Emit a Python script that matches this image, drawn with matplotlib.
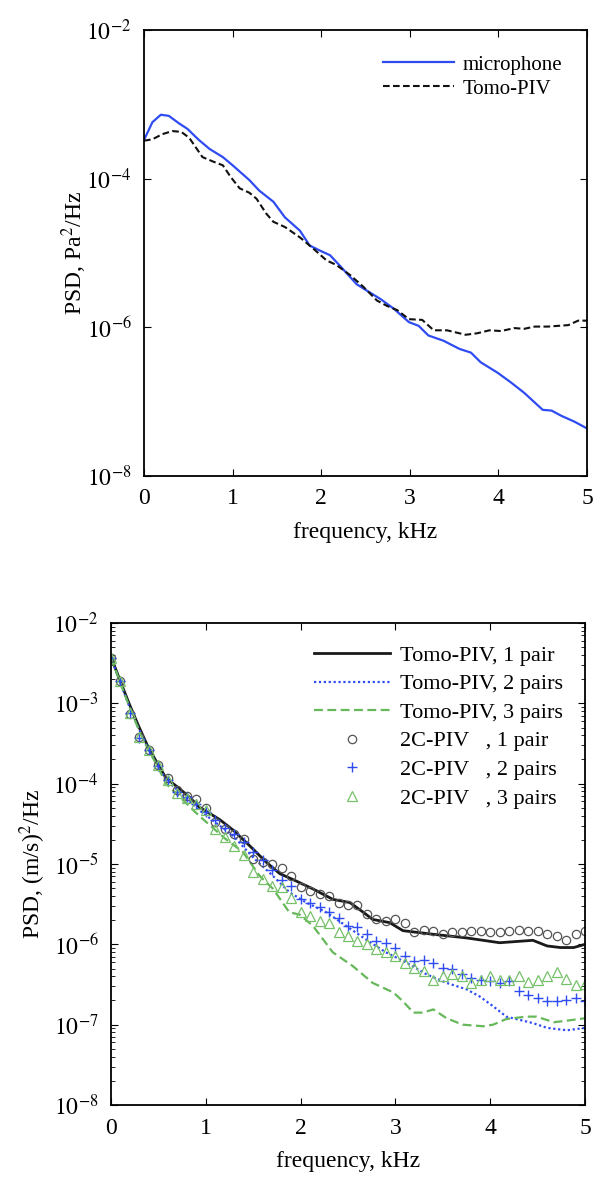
import numpy as np
import matplotlib
matplotlib.use("Agg")
import matplotlib.pyplot as plt
from matplotlib.ticker import FixedLocator, LogLocator, NullLocator, NullFormatter

plt.rcParams['font.family'] = ['Liberation Serif', 'DejaVu Serif']
plt.rcParams['mathtext.fontset'] = 'stix'

# ---- top panel: pressure PSD (values are log10 of PSD) ----
mic_f = [0.0, 0.095, 0.19, 0.28, 0.40, 0.49, 0.62, 0.74, 0.89, 1.0, 1.19, 1.30,
         1.46, 1.59, 1.76, 1.87, 1.99, 2.10, 2.21, 2.40, 2.52, 2.67, 2.82, 2.99,
         3.10, 3.21, 3.38, 3.56, 3.69, 3.80, 3.99, 4.14, 4.29, 4.50, 4.60, 4.71,
         4.86, 5.0]
mic_log = [-3.48, -3.24, -3.14, -3.155, -3.26, -3.33, -3.48, -3.60, -3.71, -3.82,
           -4.02, -4.16, -4.31, -4.52, -4.70, -4.90, -4.97, -5.03, -5.17, -5.42,
           -5.51, -5.62, -5.75, -5.93, -5.98, -6.11, -6.18, -6.29, -6.34, -6.47,
           -6.61, -6.74, -6.88, -7.11, -7.12, -7.19, -7.27, -7.36]
tomo_f = [0.0, 0.095, 0.21, 0.32, 0.42, 0.51, 0.66, 0.78, 0.89, 0.98, 1.08, 1.19,
          1.27, 1.38, 1.46, 1.59, 1.76, 1.91, 2.06, 2.17, 2.33, 2.48, 2.63, 2.74,
          2.86, 2.99, 3.14, 3.27, 3.42, 3.63, 3.76, 3.90, 4.03, 4.18, 4.29, 4.41,
          4.56, 4.79, 4.90, 5.0]
tomo_log = [-3.49, -3.47, -3.40, -3.36, -3.37, -3.45, -3.71, -3.77, -3.82, -3.98,
            -4.13, -4.19, -4.27, -4.47, -4.58, -4.65, -4.79, -4.94, -5.10, -5.16,
            -5.30, -5.46, -5.64, -5.71, -5.77, -5.89, -5.90, -6.04, -6.04, -6.10,
            -6.08, -6.04, -6.05, -6.01, -6.02, -5.99, -5.99, -5.97, -5.91, -5.91]

# ---- bottom panel: velocity PSD (log10) ----
t1_f = [0.0, 0.09, 0.19, 0.29, 0.39, 0.49, 0.58, 0.71, 0.83, 0.93, 1.15, 1.29,
        1.46, 1.64, 1.78, 1.95, 2.13, 2.34, 2.52, 2.66, 2.76, 2.94, 3.08, 3.40,
        3.75, 4.10, 4.45, 4.60, 4.74, 4.88, 5.0]
t1_log = [-2.42, -2.70, -3.00, -3.28, -3.54, -3.75, -3.93, -4.05, -4.17, -4.29,
          -4.45, -4.58, -4.77, -4.98, -5.12, -5.21, -5.31, -5.44, -5.48, -5.60,
          -5.69, -5.73, -5.83, -5.875, -5.92, -5.98, -5.95, -6.02, -6.04, -6.04, -6.0]
t2_f = [0.0, 0.09, 0.19, 0.29, 0.39, 0.49, 0.58, 0.93, 1.29, 1.50, 1.71, 1.88,
        2.06, 2.27, 2.48, 2.69, 2.90, 3.12, 3.33, 3.54, 3.75, 3.89, 4.03, 4.17,
        4.31, 4.45, 4.60, 4.81, 5.0]
t2_log = [-2.43, -2.72, -3.03, -3.31, -3.56, -3.77, -3.95, -4.33, -4.65, -4.92,
          -5.15, -5.35, -5.48, -5.60, -5.77, -5.94, -6.10, -6.23, -6.375, -6.48,
          -6.56, -6.65, -6.77, -6.90, -6.94, -6.98, -7.04, -7.07, -7.04]
t3_f = [0.0, 0.09, 0.19, 0.29, 0.39, 0.49, 0.58, 0.93, 1.21, 1.39, 1.57, 1.71,
        1.88, 1.99, 2.13, 2.34, 2.55, 2.76, 2.98, 3.08, 3.19, 3.29, 3.40, 3.54,
        3.71, 3.93, 4.03, 4.17, 4.38, 4.49, 4.67, 4.81, 5.0]
t3_log = [-2.43, -2.72, -3.03, -3.32, -3.57, -3.78, -4.0, -4.40, -4.69, -4.85,
          -5.15, -5.31, -5.60, -5.63, -5.77, -6.10, -6.27, -6.48, -6.60, -6.71,
          -6.85, -6.85, -6.81, -6.92, -7.0, -7.02, -7.0, -6.93, -6.90, -6.90,
          -6.97, -6.95, -6.92]

# 2C-PIV samples every 0.1 kHz
piv_f = np.round(np.arange(0, 5.01, 0.1), 2)
c1_log = [-2.43, -2.72, -3.13, -3.42, -3.58, -3.77, -3.93, -4.08, -4.15, -4.19,
          -4.30, -4.48, -4.56, -4.63, -4.69, -4.94, -4.97, -5.0, -5.05, -5.15,
          -5.29, -5.33, -5.375, -5.40, -5.48, -5.51, -5.51, -5.625, -5.69, -5.71,
          -5.68, -5.74, -5.85, -5.82, -5.83, -5.875, -5.85, -5.85, -5.84, -5.83,
          -5.85, -5.85, -5.83, -5.825, -5.83, -5.83, -5.875, -5.90, -5.94, -5.875,
          -5.83]
c2_log = [-2.43, -2.72, -3.12, -3.43, -3.58, -3.78, -3.95, -4.10, -4.17, -4.25,
          -4.35, -4.45, -4.55, -4.63, -4.72, -4.85, -4.95, -5.08, -5.20, -5.27,
          -5.44, -5.48, -5.53, -5.60, -5.67, -5.77, -5.79, -5.875, -5.96, -5.98,
          -6.04, -6.15, -6.21, -6.19, -6.23, -6.29, -6.31, -6.375, -6.42, -6.44,
          -6.46, -6.48, -6.46, -6.58, -6.625, -6.67, -6.71, -6.71, -6.69, -6.67,
          -6.71]
c3_log = [-2.43, -2.72, -3.12, -3.42, -3.58, -3.77, -3.95, -4.12, -4.18, -4.25,
          -4.33, -4.56, -4.66, -4.78, -4.89, -5.10, -5.19, -5.27, -5.29, -5.42,
          -5.60, -5.65, -5.71, -5.73, -5.85, -5.90, -5.96, -6.0, -6.06, -6.10,
          -6.15, -6.23, -6.29, -6.33, -6.44, -6.40, -6.375, -6.40, -6.48, -6.44,
          -6.40, -6.44, -6.44, -6.39, -6.47, -6.44, -6.40, -6.35, -6.43, -6.50,
          -6.49]

W, H = 595, 1178
fig = plt.figure(figsize=(W / 100, H / 100), dpi=100)

BLUE = '#2f4cf2'
GREEN = '#66b85a'
FS = 17


def style_axes(ax):
    ax.set_xlim(0, 5)
    ax.set_xticks(range(6))
    ax.tick_params(which='both', direction='in', top=True, right=True,
                   labelsize=FS, pad=9)
    ax.tick_params(which='major', length=5, width=0.8)
    ax.tick_params(which='minor', length=3, width=0.6)
    for s in ax.spines.values():
        s.set_linewidth(1.3)
    ax.set_xlabel('frequency, kHz', fontsize=FS, labelpad=9)


# top panel
ax1 = fig.add_axes([144 / W, 1 - 476 / H, 443 / W, 446 / H])
ax1.plot(mic_f, np.power(10.0, mic_log), color=BLUE, lw=1.6, label='microphone')
ax1.plot(tomo_f, np.power(10.0, tomo_log), color='#111111', lw=1.5,
         ls=(0, (3.2, 1.6)), label='Tomo-PIV')
ax1.set_yscale('log')
ax1.set_ylim(1e-8, 1e-2)
ax1.yaxis.set_major_locator(FixedLocator([1e-8, 1e-6, 1e-4, 1e-2]))
ax1.yaxis.set_minor_locator(NullLocator())
ax1.set_yticklabels(['$10^{-8}$', '$10^{-6}$', '$10^{-4}$', '$10^{-2}$'])
style_axes(ax1)
ax1.set_ylabel('PSD, Pa$^2$/Hz', fontsize=FS, labelpad=-2)
ax1.legend(loc='upper right', frameon=False, fontsize=15, handlelength=3.4,
           labelspacing=0.22, handletextpad=0.4, borderaxespad=0.8)

# bottom panel
ax2 = fig.add_axes([111 / W, 1 - 1105 / H, 474 / W, 482 / H])
ax2.plot(t1_f, np.power(10.0, t1_log), color='#1a1a1a', lw=2.0,
         label='Tomo-PIV, 1 pair')
ax2.plot(t2_f, np.power(10.0, t2_log), color=BLUE, lw=1.6, ls=(0, (1, 1.2)),
         label='Tomo-PIV, 2 pairs')
ax2.plot(t3_f, np.power(10.0, t3_log), color=GREEN, lw=1.6, ls=(0, (4, 2)),
         label='Tomo-PIV, 3 pairs')
ax2.plot(piv_f, np.power(10.0, c1_log), ls='none', marker='o', ms=6,
         mfc='none', mec='#555555', mew=0.9, label='2C-PIV   , 1 pair')
ax2.plot(piv_f, np.power(10.0, c2_log), ls='none', marker='+', ms=7,
         color=BLUE, mew=1.0, label='2C-PIV   , 2 pairs')
ax2.plot(piv_f, np.power(10.0, c3_log), ls='none', marker='^', ms=7,
         mfc='none', mec='#77c06a', mew=0.9, label='2C-PIV   , 3 pairs')
ax2.set_yscale('log')
ax2.set_ylim(1e-8, 1e-2)
ax2.yaxis.set_major_locator(FixedLocator([10.0 ** k for k in range(-8, -1)]))
ax2.yaxis.set_minor_locator(LogLocator(base=10, subs=np.arange(2, 10), numticks=20))
ax2.yaxis.set_minor_formatter(NullFormatter())
ax2.set_yticklabels(['$10^{%d}$' % k for k in range(-8, -1)])
style_axes(ax2)
ax2.set_ylabel('PSD, (m/s)$^2$/Hz', fontsize=FS, labelpad=4)
ax2.legend(loc='upper right', frameon=False, fontsize=16, handlelength=3.4,
           labelspacing=0.36, handletextpad=0.45, borderaxespad=0.6)

fig.savefig('out.png', dpi=100)
